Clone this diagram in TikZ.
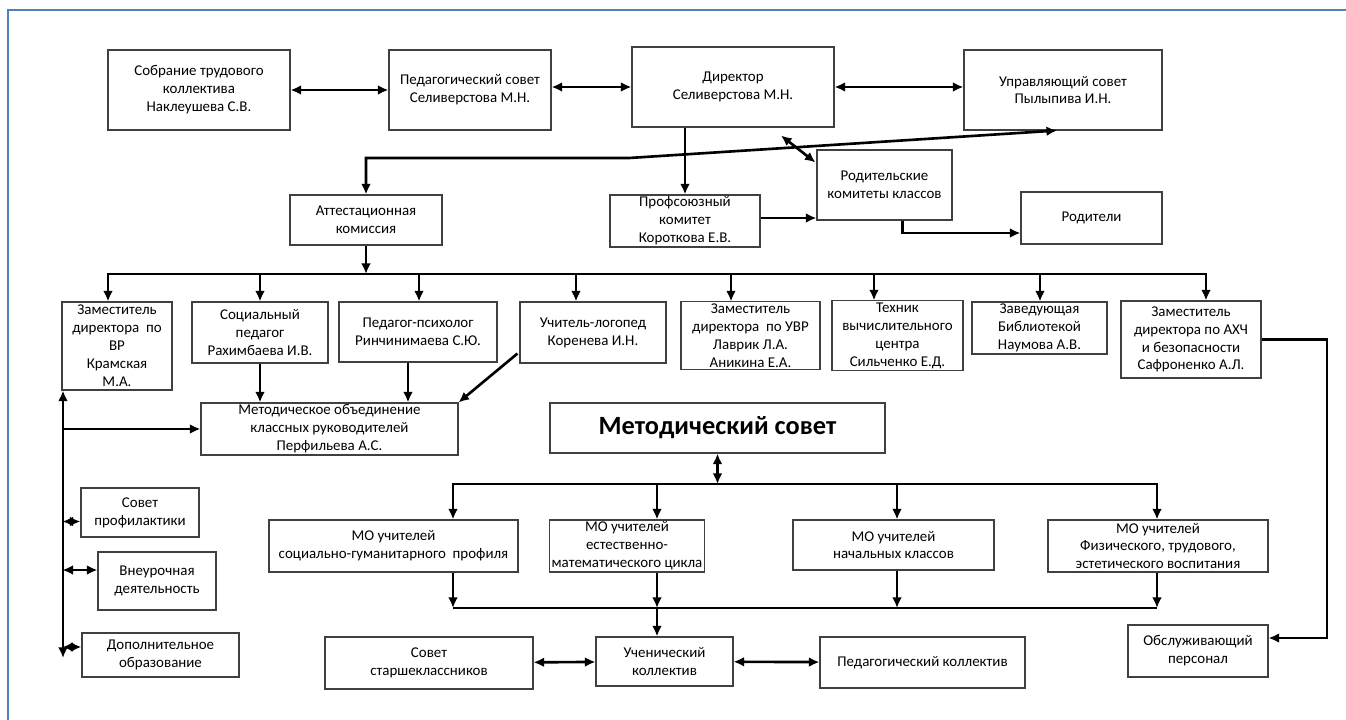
\documentclass[tikz,border=0pt]{standalone}
\usepackage{fontspec}
\setmainfont{Carlito}
\usetikzlibrary{arrows.meta}
\definecolor{borderblue}{RGB}{79,129,189}

\tikzset{
  box/.style={draw=black!75, line width=0.6pt, align=center, inner sep=1pt,
    font=\fontsize{8.5}{10.2}\selectfont},
  wh/.style 2 args={minimum width=#1*0.02cm, minimum height=#2*0.02cm},
  link/.style={line width=1.5pt, >={Latex[length=6pt,width=5.5pt]}},
}

\begin{document}
\begin{tikzpicture}[x=0.02cm, y=-0.02cm]
\useasboundingbox (0,0) rectangle (1346,720);
\draw[borderblue, line width=1.2pt] (8,720) -- (8,10) -- (1346,10);

% top
\node[box, wh={182}{80}] (sob) at (199,90) {Собрание трудового\\коллектива\\Наклеушева С.В.};
\node[box, wh={162}{80}] (ped) at (470,90) {Педагогический совет\\Селиверстова М.Н.};
\node[box, wh={202}{80}] (dir) at (733,87) {Директор\\Селиверстова М.Н.};
\node[box, wh={198}{80}] (upr) at (1063,90) {Управляющий совет\\Пылыпива И.Н.};
\node[box, wh={135}{70}] (rod) at (884.5,185) {Родительские\\комитеты классов};
\node[box, wh={141}{52}] (rdt) at (1091.5,218) {Родители};
\node[box, wh={150}{52}] (prf) at (685,221) {Профсоюзный\\комитет\\Короткова Е.В.};
\node[box, wh={152}{50}] (att) at (366,220) {Аттестационная\\комиссия};

% staff
\node[box, wh={110}{88}] (zvr) at (117,346) {Заместитель\\директора~~по\\ВР\\Крамская\\М.А.};
\node[box, wh={136}{61}] (soc) at (260,332.5) {Социальный\\педагог\\Рахимбаева И.В.};
\node[box, wh={158}{60}] (psy) at (418,332) {Педагог-психолог\\Ринчинимаева С.Ю.};
\node[box, wh={146}{61}] (log) at (593,332.5) {Учитель-логопед\\Коренева И.Н.};
\node[box, wh={139}{67}] (uvr) at (750.5,335.5) {Заместитель\\директора~~по УВР\\Лаврик Л.А.\\Аникина Е.А.};
\node[box, wh={131}{67}] (teh) at (897.5,335.5) {Техник\\вычислительного\\центра\\Сильченко Е.Д.};
\node[box, wh={135}{52}] (zav) at (1039.5,328) {Заведующая\\Библиотекой\\Наумова А.В.};
\node[box, wh={140}{77}] (ahc) at (1191,339.5) {Заместитель\\директора по АХЧ\\и безопасности\\Сафроненко А.Л.};

\node[box, wh={257}{52}] (mko) at (329.5,429) {Методическое объединение\\классных руководителей\\Перфильева А.С.};
\node[box, wh={335}{50}, font=\fontsize{15}{18}\selectfont\bfseries] (msv) at (717.5,428) {Методический совет};

\node[box, wh={118}{49}] (spr) at (140,512.5) {Совет\\профилактики};
\node[box, wh={118}{58}] (vnu) at (157,581) {Внеурочная\\деятельность};
\node[box, wh={157}{44}] (dop) at (160.5,655) {Дополнительное\\образование};

\node[box, wh={249}{52}] (mo1) at (393.5,546) {МО учителей\\социально-гуманитарного~~профиля};
\node[box, wh={152}{52}] (mo2) at (627,546) {МО учителей\\естественно-\\математического цикла};
\node[box, wh={201}{50}] (mo3) at (893.5,545) {МО учителей\\начальных классов};
\node[box, wh={220}{52}] (mo4) at (1158,546) {МО учителей\\Физического, трудового,\\эстетического воспитания};

\node[box, wh={208}{52}] (sst) at (429,663) {Совет\\старшеклассников};
\node[box, wh={137}{49}] (uch) at (664.5,661.5) {Ученический\\коллектив};
\node[box, wh={205}{51}] (pdk) at (922.5,662.5) {Педагогический коллектив};
\node[box, wh={140}{52}] (obs) at (1198,651) {Обслуживающий\\персонал};

% connectors, top
\draw[link,<->] (sob) -- (ped);
\draw[link,<->] (ped.east |- dir) -- (dir);
\draw[link,<->] (dir) -- (upr.west |- dir);
\draw[link,->] (prf |- dir.south) -- (prf);
\draw[link,<->] ([shift={(48,8)}]dir.south) -- ([shift={(-1,13)}]rod.north west);
\coordinate (k2) at (629,158);
\draw[link,<->] (att) |- (k2) -- ([shift={(-6,0)}]upr.south);
\path ([shift={(0,-3)}]prf.east) coordinate (p1);
\draw[link,->] (p1) -- (p1 -| rod.west);
\draw[link,->] ([shift={(18,0)}]rod.south) |- ([shift={(0,15)}]rdt.west);

% staff bus
\coordinate (busA) at (108,274);
\coordinate (busB) at (1206,274);
\draw[link,->] (att) -- (att |- busA);
\draw[link,<->] (zvr.north -| busA) -- (busA) -- (busB) -- (ahc.north -| busB);
\foreach \n/\x in {soc/260, psy/419, log/576, uvr/731, teh/874, zav/1040}
  \draw[link,->] (busA -| \x,0) -- (\n.north -| \x,0);

\draw[link,->] (soc) -- (soc |- mko.north);
\draw[link,->] (psy.south -| 408,0) -- (mko.north -| 408,0);
\draw[link,->] ([shift={(-2,-10)}]log.south west) -- (mko.north east);

% left column
\coordinate (vl) at (63,658);
\draw[link,<->] (zvr.south -| vl) -- (vl);
\draw[link,->] (vl |- mko) -- (mko);
\draw[link,<->] ([shift={(0,9)}]spr.west) -- ++(-18,0);
\draw[link,<->] ([shift={(0,-11)}]vnu.west) -- ++(-35,0);
\draw[link,<->] ([shift={(0,-8)}]dop.west) -- ++(-19,0);

% methodical council
\coordinate (bus2L) at (453,484);
\coordinate (bus2R) at (1157,484);
\draw[link,<->] (msv) -- (msv |- bus2L);
\draw[link,<->] (mo1.north -| bus2L) -- (bus2L) -- (bus2R) -- (mo4.north -| bus2R);
\foreach \n/\x in {mo2/657, mo3/897}
  \draw[link,->] (bus2L -| \x,0) -- (\n.north -| \x,0);
\coordinate (bus3L) at (453,608);
\coordinate (bus3R) at (1157,608);
\draw[link] (bus3L) -- (bus3R);
\foreach \n/\x in {mo1/453, mo2/657, mo3/897, mo4/1157}
  \draw[link,->] (\n.south -| \x,0) -- (bus3L -| \x,0);
\draw[link,->] (bus3L -| 657,0) -- (uch.north -| 657,0);
\draw[link,<->] (sst) -- (uch);
\draw[link,<->] (uch) -- (pdk);

\coordinate (rcol) at (1327,638);
\draw[link,->] (ahc.east) -| (rcol) -- (rcol -| obs.east);
\end{tikzpicture}
\end{document}
